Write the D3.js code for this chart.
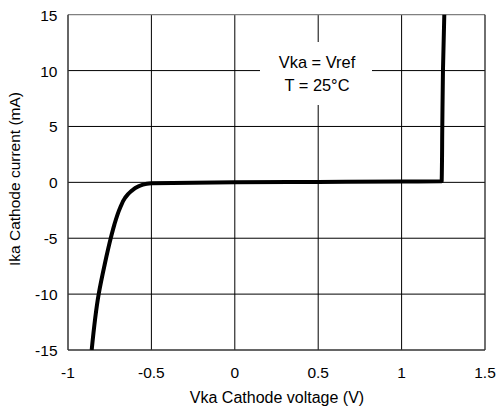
<!DOCTYPE html>
<html>
<head>
<meta charset="utf-8">
<script src="https://cdn.jsdelivr.net/npm/d3@7"></script>
<style>
  body { margin: 0; background: #fff; }
  text { font-family: "Liberation Sans", Arial, sans-serif; fill: #000; }
</style>
</head>
<body>
<script>
// curve (V, mA)
const vka = [-0.858, -0.816, -0.780, -0.742, -0.722, -0.688, -0.658, -0.622, -0.578, -0.528, -0.498, 0, 0.5, 1.0, 1.2404, 1.244, 1.248, 1.256];
const ika = [-15, -10, -7.35, -4.9, -3.78, -2.29, -1.39, -0.80, -0.36, -0.12, -0.08, 0, 0.04, 0.08, 0.1, 5, 10, 15];
const xTicks = [-1, -0.5, 0, 0.5, 1, 1.5];
const yTicks = [-15, -10, -5, 0, 5, 10, 15];
const noteLines = ['Vka = Vref', 'T = 25°C'];

const W = 500, H = 410;
const m = { left: 68, right: 15, top: 14.7, bottom: 60 };

const svg = d3.select('body').append('svg')
  .attr('width', W)
  .attr('height', H);

const x = d3.scaleLinear().domain([-1, 1.5]).range([m.left, W - m.right]);
const y = d3.scaleLinear().domain([-15, 15]).range([H - m.bottom, m.top]);

// grid
svg.append('g')
  .selectAll('line')
  .data(xTicks.slice(1, -1))
  .enter()
  .append('line')
    .attr('x1', d => x(d)).attr('x2', d => x(d))
    .attr('y1', y(15)).attr('y2', y(-15))
    .attr('stroke', '#000').attr('stroke-width', 1);
svg.append('g')
  .selectAll('line')
  .data(yTicks.slice(1, -1))
  .enter()
  .append('line')
    .attr('x1', x(-1)).attr('x2', x(1.5))
    .attr('y1', d => y(d)).attr('y2', d => y(d))
    .attr('stroke', '#000').attr('stroke-width', 1);

// frame: top grey, others dark
svg.append('line').attr('x1', x(-1)).attr('x2', x(1.5)).attr('y1', y(15)).attr('y2', y(15))
  .attr('stroke', '#808080').attr('stroke-width', 1.3);
svg.append('line').attr('x1', x(1.5)).attr('x2', x(1.5)).attr('y1', y(15)).attr('y2', y(-15))
  .attr('stroke', '#222').attr('stroke-width', 1.3);
svg.append('line').attr('x1', x(-1)).attr('x2', x(-1)).attr('y1', y(15)).attr('y2', y(-15))
  .attr('stroke', '#333').attr('stroke-width', 1.5);
svg.append('line').attr('x1', x(-1)).attr('x2', x(1.5)).attr('y1', y(-15)).attr('y2', y(-15))
  .attr('stroke', '#333').attr('stroke-width', 1.5);

// note box covering grid
const note = svg.append('g');
note.append('rect')
  .attr('x', 260).attr('y', 42).attr('width', 112).attr('height', 63)
  .attr('fill', '#fff');
note.selectAll('text')
  .data(noteLines)
  .enter()
  .append('text')
    .text(d => d)
    .attr('x', 317)
    .attr('y', (d, i) => 68 + i * 22.5)
    .attr('text-anchor', 'middle')
    .style('font-size', '16.4px');

// curve
svg.append('clipPath').attr('id', 'clip')
  .append('rect')
    .attr('x', x(-1)).attr('y', y(15) - 1)
    .attr('width', x(1.5) - x(-1)).attr('height', y(-15) - y(15) + 1);

const line = d3.line()
  .x(d => x(d[0]))
  .y(d => y(d[1]))
  .curve(d3.curveMonotoneY);

svg.append('path')
  .attr('d', line(vka.map((v, i) => [v, ika[i]])))
  .attr('clip-path', 'url(#clip)')
  .attr('fill', 'none')
  .attr('stroke', '#000')
  .attr('stroke-width', 4)
  .attr('stroke-linejoin', 'round');

// tick labels
svg.append('g')
  .selectAll('text')
  .data(xTicks)
  .enter()
  .append('text')
    .text(d => d)
    .attr('x', d => x(d))
    .attr('y', y(-15) + 27.5)
    .attr('text-anchor', 'middle')
    .style('font-size', '15.5px');

svg.append('g')
  .selectAll('text')
  .data(yTicks)
  .enter()
  .append('text')
    .text(d => d)
    .attr('x', x(-1) - 10.5)
    .attr('y', d => y(d) + 6)
    .attr('text-anchor', 'end')
    .style('font-size', '15.5px');

// axis titles
svg.append('text').text('Vka Cathode voltage (V)')
  .attr('x', 277).attr('y', 403)
  .attr('text-anchor', 'middle')
  .style('font-size', '16px');

svg.append('text').text('Ika Cathode current (mA)')
  .attr('transform', 'translate(19.5,179) rotate(-90)')
  .attr('text-anchor', 'middle')
  .style('font-size', '15.5px');
</script>
</body>
</html>
